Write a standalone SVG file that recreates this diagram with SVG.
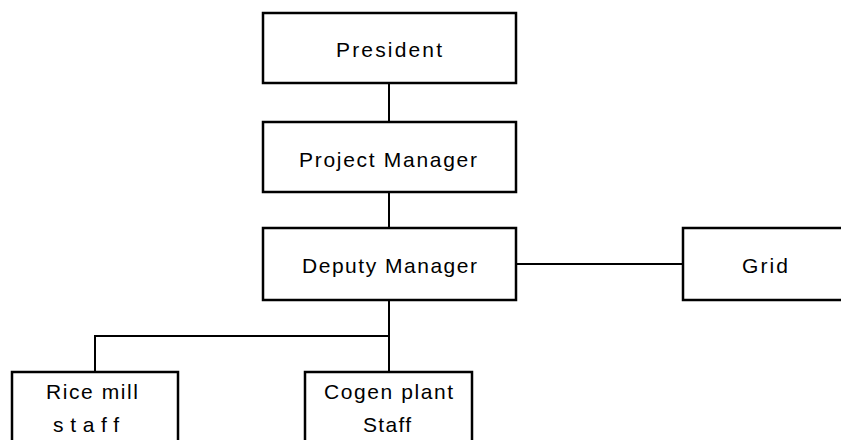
<svg xmlns="http://www.w3.org/2000/svg" width="841" height="440" viewBox="0 0 841 440">
<style>
.box{fill:#fff;stroke:#000;stroke-width:2.5}
.ln{fill:none;stroke:#000;stroke-width:2}
text{font-family:"Liberation Sans",Arial,sans-serif;font-size:21px;fill:#000}
</style>
<rect width="841" height="440" fill="#fff"/>
<g id="connectors">
<line class="ln" x1="389" y1="83" x2="389" y2="122"/>
<line class="ln" x1="389" y1="192" x2="389" y2="228"/>
<line class="ln" x1="516" y1="264" x2="683" y2="264"/>
<polyline class="ln" points="389,300 389,372"/>
<polyline class="ln" points="389,336 95,336 95,372"/>
</g>
<g id="president"><rect class="box" x="263" y="13" width="253" height="70"/><text x="336" y="57" textLength="106" lengthAdjust="spacing">President</text></g>
<g id="project-manager"><rect class="box" x="263" y="122" width="253" height="70"/><text x="299" y="167" textLength="178" lengthAdjust="spacing">Project Manager</text></g>
<g id="deputy-manager"><rect class="box" x="263" y="228" width="253" height="72"/><text x="302" y="273" textLength="175" lengthAdjust="spacing">Deputy Manager</text></g>
<g id="grid"><rect class="box" x="683" y="228" width="170" height="72"/><text x="742" y="273" textLength="46" lengthAdjust="spacing">Grid</text></g>
<g id="rice-mill"><rect class="box" x="12" y="372" width="166" height="80"/><text x="46" y="399" textLength="92" lengthAdjust="spacing">Rice mill</text><text x="53" y="432" textLength="66" lengthAdjust="spacing">staff</text></g>
<g id="cogen"><rect class="box" x="305" y="372" width="167" height="80"/><text x="324" y="399" textLength="129" lengthAdjust="spacing">Cogen plant</text><text x="363" y="432" textLength="48" lengthAdjust="spacing">Staff</text></g>
</svg>
